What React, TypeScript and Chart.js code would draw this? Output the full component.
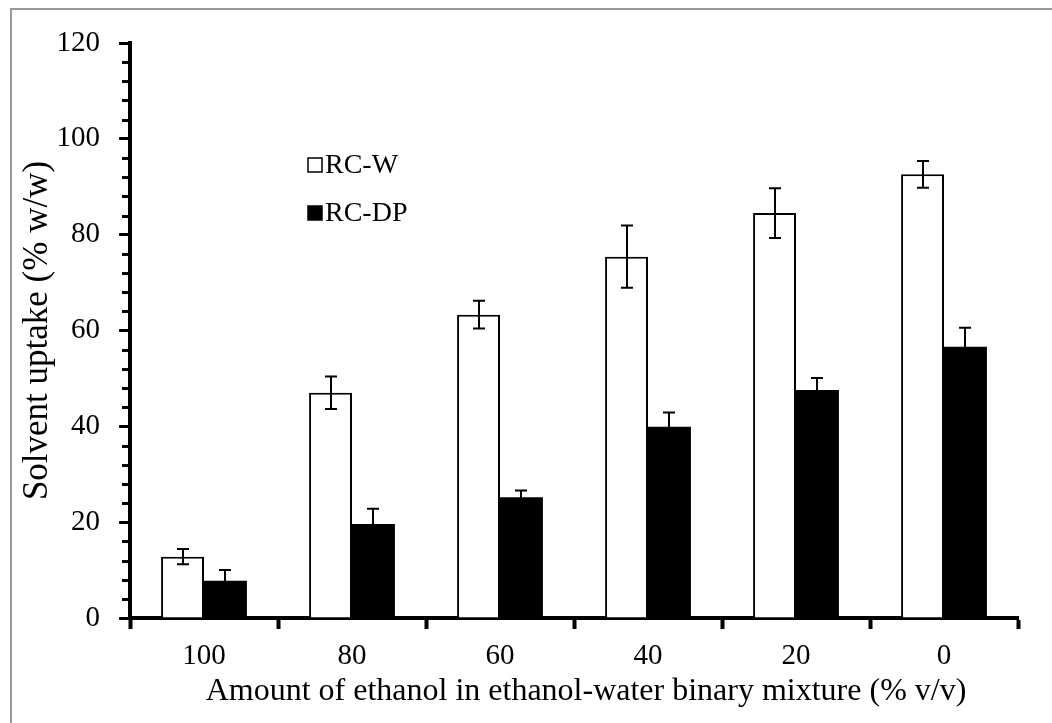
import React, { useEffect, useRef } from 'react';
import { Chart, registerables } from 'chart.js';

Chart.register(...registerables);

const categories = ['100', '80', '60', '40', '20', '0'];
const seriesNames = ['RC-W', 'RC-DP'];
const rcW = [12.8, 47.0, 63.3, 75.4, 84.5, 92.6];
const rcWErr = [1.6, 3.4, 2.9, 6.5, 5.2, 2.8];
const rcDP = [7.8, 19.6, 25.2, 39.9, 47.6, 56.6];
const rcDPErr = [2.2, 3.2, 1.4, 3.0, 2.5, 4.0];
const yMin = 0;
const yMax = 120;
const yMajorStep = 20;
const yMinorStep = 4;
const xTitle = 'Amount of ethanol in ethanol-water binary mixture (% v/v)';
const yTitle = 'Solvent uptake (% w/w)';

const FONT = '"Liberation Serif", "Times New Roman", serif';

export default function App() {
  const ref = useRef<HTMLCanvasElement | null>(null);

  useEffect(() => {
    if (!ref.current) return;
    const errs = [rcWErr, rcDPErr];

    const errorBars = {
      id: 'errorBars',
      afterDatasetsDraw(chart: any) {
        const ctx = chart.ctx;
        const ys = chart.scales.y;
        ctx.save();
        ctx.strokeStyle = '#000';
        ctx.lineWidth = 2;
        chart.data.datasets.forEach((ds: any, i: number) => {
          const meta = chart.getDatasetMeta(i);
          meta.data.forEach((el: any, j: number) => {
            const v = ds.data[j];
            const e = errs[i][j];
            const x = Math.round(el.x);
            const yt = ys.getPixelForValue(v + e);
            const yb = ys.getPixelForValue(v - e);
            const cap = 6;
            ctx.beginPath();
            ctx.moveTo(x, yt);
            ctx.lineTo(x, yb);
            ctx.moveTo(x - cap, yt);
            ctx.lineTo(x + cap, yt);
            ctx.moveTo(x - cap, yb);
            ctx.lineTo(x + cap, yb);
            ctx.stroke();
          });
        });
        ctx.restore();
      },
    };

    const minorTicks = {
      id: 'minorTicks',
      afterDraw(chart: any) {
        const ctx = chart.ctx;
        const ys = chart.scales.y;
        const left = chart.chartArea.left;
        ctx.save();
        ctx.strokeStyle = '#000';
        ctx.lineWidth = 3;
        for (let v = yMin; v <= yMax; v += yMinorStep) {
          if (v % yMajorStep === 0) continue;
          const y = Math.round(ys.getPixelForValue(v)) + 0.5;
          ctx.beginPath();
          ctx.moveTo(left - 8, y);
          ctx.lineTo(left, y);
          ctx.stroke();
        }
        ctx.restore();
      },
    };

    const xTitlePlugin = {
      id: 'xTitlePlugin',
      afterDraw(chart: any) {
        const ctx = chart.ctx;
        const ca = chart.chartArea;
        ctx.save();
        ctx.font = `32px ${FONT}`;
        ctx.fillStyle = '#000';
        ctx.textAlign = 'center';
        ctx.textBaseline = 'middle';
        ctx.fillText(xTitle, (ca.left + ca.right) / 2 + 12, 692);
        ctx.restore();
      },
    };

    const boxLegend = {
      id: 'boxLegend',
      afterDraw(chart: any) {
        const ctx = chart.ctx;
        const ca = chart.chartArea;
        const x0 = ca.left + 178;
        const rows = [165, 213];
        ctx.save();
        ctx.font = `28px ${FONT}`;
        ctx.textBaseline = 'middle';
        ctx.fillStyle = '#000';
        chart.data.datasets.forEach((ds: any, i: number) => {
          const yc = rows[i];
          const s = 14;
          ctx.fillStyle = ds.backgroundColor;
          ctx.fillRect(x0, yc - s / 2, s, s);
          ctx.strokeStyle = '#000';
          ctx.lineWidth = 1.5;
          ctx.strokeRect(x0, yc - s / 2, s, s);
          ctx.fillStyle = '#000';
          ctx.fillText(ds.label, x0 + s + 3, yc + 1);
        });
        ctx.restore();
      },
    };

    const chart = new Chart(ref.current, {
      type: 'bar',
      data: {
        labels: categories,
        datasets: [
          {
            label: seriesNames[0],
            data: rcW,
            backgroundColor: '#ffffff',
            borderColor: '#000000',
            borderWidth: 2,
          },
          {
            label: seriesNames[1],
            data: rcDP,
            backgroundColor: '#000000',
            borderColor: '#000000',
            borderWidth: 0,
          },
        ],
      },
      options: {
        responsive: false,
        animation: false,
        events: [],
        categoryPercentage: 0.58,
        barPercentage: 1.0,
        layout: { padding: { top: 43, right: 34, left: 0, bottom: 0 } },
        plugins: {
          legend: { display: false },
          tooltip: { enabled: false },
          title: { display: false },
        },
        scales: {
          x: {
            grid: {
              display: true,
              drawOnChartArea: false,
              drawTicks: true,
              tickLength: 11,
              tickWidth: 4,
              tickColor: '#000',
              offset: true,
            },
            border: { display: true, color: '#000', width: 4 },
            ticks: {
              font: { family: FONT, size: 29 },
              color: '#000',
              padding: 10,
              maxRotation: 0,
            },
            title: { display: false, text: xTitle },
            afterFit(s: any) {
              s.height = 105;
            },
          },
          y: {
            min: yMin,
            max: yMax,
            ticks: {
              stepSize: yMajorStep,
              font: { family: FONT, size: 29 },
              color: '#000',
              padding: 19,
            },
            grid: {
              drawOnChartArea: false,
              drawTicks: true,
              tickLength: 11,
              tickWidth: 3,
              tickColor: '#000',
            },
            border: { display: true, color: '#000', width: 4 },
            title: {
              display: true,
              text: yTitle,
              font: { family: FONT, size: 35 },
              color: '#000',
              padding: { top: 17, bottom: 0 },
            },
            afterFit(s: any) {
              s.width = 130;
            },
          },
        },
      },
      plugins: [errorBars, minorTicks, xTitlePlugin, boxLegend],
    } as any);

    return () => chart.destroy();
  }, []);

  return (
    <div
      style={{
        position: 'fixed',
        left: 0,
        top: 0,
        width: 1052,
        height: 723,
        background: '#ffffff',
        overflow: 'hidden',
      }}
    >
      <div
        style={{
          position: 'absolute',
          left: 10,
          top: 8,
          right: -4,
          bottom: -4,
          borderLeft: '2px solid #9a9a9a',
          borderTop: '2px solid #9a9a9a',
        }}
      />
      <canvas
        ref={ref}
        width={1052}
        height={723}
        style={{ position: 'absolute', left: 0, top: 0 }}
      />
    </div>
  );
}
